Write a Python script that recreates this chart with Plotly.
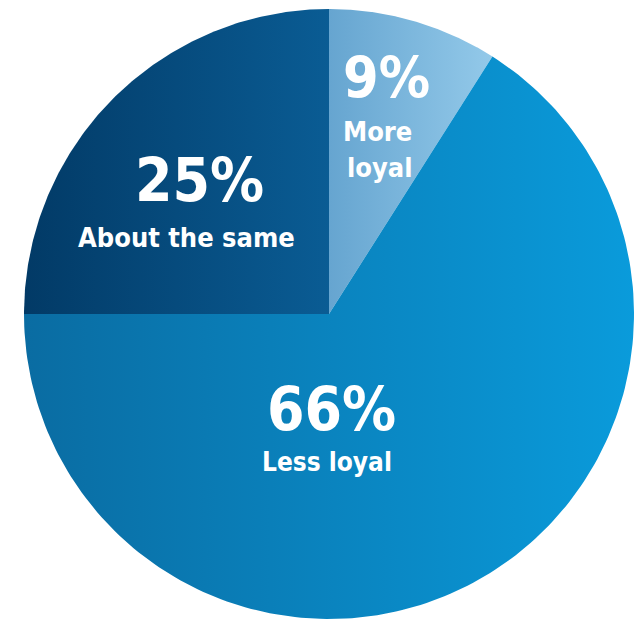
import numpy as np
import plotly.graph_objects as go

# Survey answers, in clockwise order from 12 o'clock
labels = ["More loyal", "Less loyal", "About the same"]
values = [9, 66, 25]
pct_text = ["9%", "66%", "25%"]

# Horizontal colour ramps per slice (left colour, right colour) and ramp extent
slice_ramps = [
    ("#66a5d0", "#94caea", 0.0, 0.55),
    ("#0a6ca2", "#0a9bdb", -1.0, 1.0),
    ("#023a66", "#0a5c94", -1.0, 0.0),
]

# Label placement inside each slice (data units, pie radius = 1)
number_pos = [(0.187, 0.775), (0.007, -0.31), (-0.426, 0.44)]
number_size = [57, 60, 60]
name_lines = [["More", "loyal"], ["Less loyal"], ["About the same"]]
name_pos = [[(0.159, 0.597), (0.167, 0.480)], [(-0.005, -0.485)], [(-0.466, 0.25)]]
name_size = [27, 26, 27]

FONT = "DejaVu Sans Condensed"

fig = go.Figure()

total = float(sum(values))
start = 90.0
for i, v in enumerate(values):
    sweep = 360.0 * v / total
    theta = np.radians(np.linspace(start, start - sweep, 200))
    xs = np.concatenate([[0.0], np.cos(theta), [0.0]])
    ys = np.concatenate([[0.0], np.sin(theta), [0.0]])
    c0, c1, g0, g1 = slice_ramps[i]
    fig.add_trace(go.Scatter(
        x=xs, y=ys, mode="lines", fill="toself",
        line=dict(width=0, color=c1),
        fillgradient=dict(type="horizontal", colorscale=[[0, c0], [1, c1]],
                          start=g0, stop=g1),
        name=labels[i], hoverinfo="name", showlegend=False,
    ))
    start -= sweep

for i in range(len(values)):
    fig.add_annotation(x=number_pos[i][0], y=number_pos[i][1], text=pct_text[i],
                       showarrow=False, xanchor="center", yanchor="middle",
                       font=dict(family=FONT, size=number_size[i], color="white",
                                 weight="bold"))
    for line, (lx, ly) in zip(name_lines[i], name_pos[i]):
        fig.add_annotation(x=lx, y=ly, text=line,
                           showarrow=False, xanchor="center", yanchor="middle",
                           font=dict(family=FONT, size=name_size[i], color="white",
                                     weight="bold"))

W, H = 638, 620
cx, cy, r = 329.0, 314.0, 305.0
fig.update_xaxes(range=[-cx / r, (W - cx) / r], visible=False)
fig.update_yaxes(range=[(cy - H) / r, cy / r], visible=False)
fig.update_layout(width=W, height=H, margin=dict(l=0, r=0, t=0, b=0),
                  plot_bgcolor="white", paper_bgcolor="white")

fig.write_html("out.html")
